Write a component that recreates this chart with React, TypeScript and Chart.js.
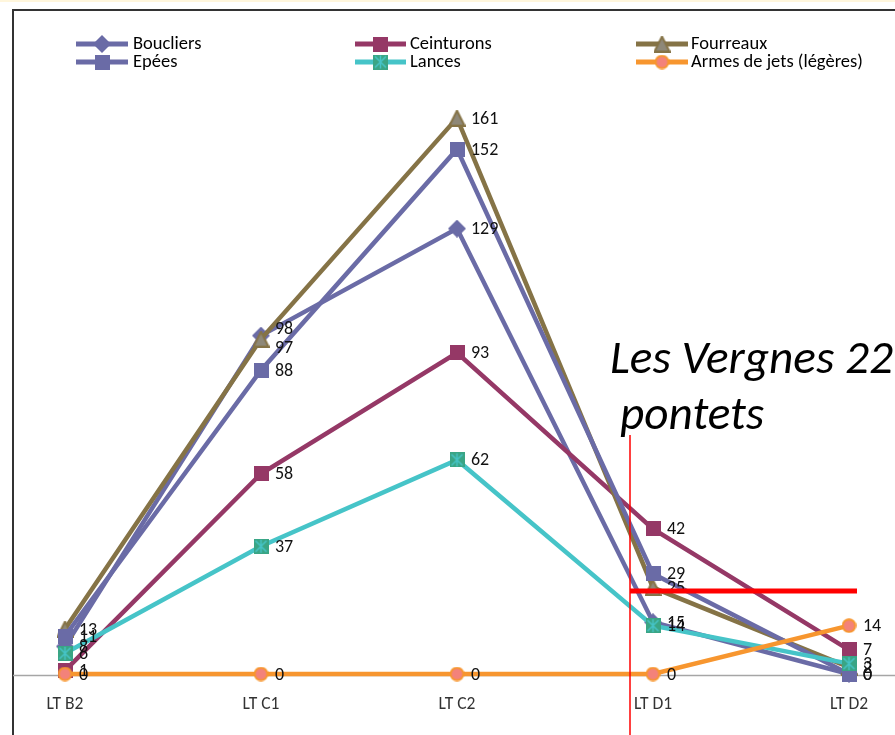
import React, { useEffect, useRef } from "react";
import { Chart, registerables } from "chart.js";

Chart.register(...registerables);

const categories = ["LT B2", "LT C1", "LT C2", "LT D1", "LT D2"];
const boucliers = [8, 98, 129, 15, 0];
const ceinturons = [1, 58, 93, 42, 7];
const fourreaux = [13, 97, 161, 25, 2];
const epees = [11, 88, 152, 29, 0];
const lances = [6, 37, 62, 14, 3];
const armes = [0, 0, 0, 0, 14];
const seriesNames = ["Boucliers", "Ceinturons", "Fourreaux", "Epées", "Lances", "Armes de jets (légères)"];
const annotationLines = ["Les Vergnes 22", "pontets"];

const FONT = '"Carlito", "Liberation Sans Narrow", "Noto Sans", sans-serif';

function fit(ctx: CanvasRenderingContext2D, text: string, target: number, style: string) {
  ctx.font = style + "20px " + FONT;
  const w = ctx.measureText(text).width;
  const size = (20 * target) / w;
  return style + size.toFixed(2) + "px " + FONT;
}

function mk(size: number, draw: (c: CanvasRenderingContext2D, s: number) => void) {
  const cv = document.createElement("canvas");
  cv.width = size;
  cv.height = size;
  const c = cv.getContext("2d")!;
  draw(c, size);
  return cv;
}

const diamond = mk(18, (c, s) => {
  c.fillStyle = "#6A6BA6";
  c.beginPath();
  c.moveTo(s / 2, 0);
  c.lineTo(s, s / 2);
  c.lineTo(s / 2, s);
  c.lineTo(0, s / 2);
  c.closePath();
  c.fill();
});
const sqBlue = mk(15, (c, s) => {
  c.fillStyle = "#6A6BA6";
  c.fillRect(0, 0, s, s);
});
const sqRed = mk(15, (c, s) => {
  c.fillStyle = "#953866";
  c.fillRect(0, 0, s, s);
});
const tri = mk(17, (c, s) => {
  c.fillStyle = "#8E8878";
  c.strokeStyle = "#857346";
  c.lineWidth = 2;
  c.beginPath();
  c.moveTo(s / 2, 1);
  c.lineTo(s - 1, s - 1);
  c.lineTo(1, s - 1);
  c.closePath();
  c.fill();
  c.stroke();
});
const sqGreen = mk(15, (c, s) => {
  c.fillStyle = "#3AA585";
  c.fillRect(0, 0, s, s);
  c.strokeStyle = "#46C4C8";
  c.lineWidth = 1.5;
  c.beginPath();
  c.moveTo(2, 2);
  c.lineTo(s - 2, s - 2);
  c.moveTo(s - 2, 2);
  c.lineTo(2, s - 2);
  c.moveTo(s / 2, 1);
  c.lineTo(s / 2, s - 1);
  c.stroke();
});
const circ = mk(15, (c, s) => {
  c.fillStyle = "#F3827A";
  c.strokeStyle = "#F7962F";
  c.lineWidth = 2;
  c.beginPath();
  c.arc(s / 2, s / 2, s / 2 - 1.2, 0, Math.PI * 2);
  c.fill();
  c.stroke();
});

const lineColors = ["#6A6BA6", "#953866", "#857346", "#6A6BA6", "#46C4C8", "#F7962F"];
const markers = [diamond, sqRed, tri, sqBlue, sqGreen, circ];
const values = [boucliers, ceinturons, fourreaux, epees, lances, armes];
// small vertical nudges (px) for overlapping data labels: [series, category, dy]
const labelNudges: [number, number, number][] = [
  [0, 1, -7],
  [2, 1, 8],
];

const overlay = {
  id: "overlay",
  beforeDraw(chart: any) {
    const ctx = chart.ctx as CanvasRenderingContext2D;
    ctx.save();
    ctx.fillStyle = "#ffffff";
    ctx.fillRect(0, 0, chart.width, chart.height);
    ctx.fillStyle = "#FFF6DC";
    ctx.fillRect(0, 0, chart.width, 2);
    ctx.strokeStyle = "#333333";
    ctx.lineWidth = 2;
    ctx.beginPath();
    ctx.moveTo(13, 760);
    ctx.lineTo(13, 10);
    ctx.lineTo(920, 10);
    ctx.stroke();
    const y0 = chart.scales.y.getPixelForValue(0);
    ctx.strokeStyle = "#A6A6A6";
    ctx.lineWidth = 1.5;
    ctx.beginPath();
    ctx.moveTo(13, y0 + 1.5);
    ctx.lineTo(chart.width, y0 + 1.5);
    ctx.stroke();
    ctx.fillStyle = "#333333";
    ctx.font = fit(ctx, "LT B2", 37, "");
    ctx.textAlign = "center";
    ctx.textBaseline = "middle";
    categories.forEach((c, i) => {
      ctx.fillText(c, chart.scales.x.getPixelForValue(i), 705);
    });
    ctx.restore();
  },
  afterDatasetsDraw(chart: any) {
    const ctx = chart.ctx as CanvasRenderingContext2D;
    ctx.save();
    // data labels
    ctx.fillStyle = "#111111";
    ctx.font = "18px " + FONT;
    ctx.textAlign = "left";
    ctx.textBaseline = "middle";
    chart.data.datasets.forEach((ds: any, di: number) => {
      const meta = chart.getDatasetMeta(di);
      meta.data.forEach((pt: any, i: number) => {
        let dy = 0;
        labelNudges.forEach((n) => {
          if (n[0] === di && n[1] === i) dy = n[2];
        });
        ctx.fillText(String(ds.data[i]), pt.x + 14, pt.y + 1 + dy);
      });
    });
    // red lines
    ctx.strokeStyle = "#FF0000";
    ctx.lineWidth = 1.5;
    ctx.beginPath();
    ctx.moveTo(630, 435);
    ctx.lineTo(630, 735);
    ctx.stroke();
    ctx.lineWidth = 5;
    ctx.beginPath();
    ctx.moveTo(630, 591);
    ctx.lineTo(857, 591);
    ctx.stroke();
    // annotation
    ctx.fillStyle = "#000000";
    ctx.font = fit(ctx, annotationLines[0], 283, "italic ");
    ctx.textBaseline = "alphabetic";
    ctx.fillText(annotationLines[0], 610, 373);
    ctx.fillText(annotationLines[1], 620, 429);
    // legend
    const cols = [
      [76, 128, 133],
      [355, 406, 410],
      [636, 688, 691],
    ];
    const rows = [44, 62];
    ctx.font = fit(ctx, seriesNames[5], 172, "");
    ctx.textBaseline = "middle";
    for (let i = 0; i < 6; i++) {
      const col = cols[i % 3];
      const y = rows[Math.floor(i / 3)];
      ctx.strokeStyle = lineColors[i];
      ctx.lineWidth = 5;
      ctx.beginPath();
      ctx.moveTo(col[0], y);
      ctx.lineTo(col[1], y);
      ctx.stroke();
      const m = markers[i];
      ctx.drawImage(m, (col[0] + col[1]) / 2 - m.width / 2, y - m.height / 2);
      ctx.fillStyle = "#000000";
      ctx.fillText(seriesNames[i], col[2], y);
    }
    ctx.restore();
  },
};

export default function App() {
  const ref = useRef<HTMLCanvasElement>(null);
  useEffect(() => {
    const chart = new Chart(ref.current!, {
      type: "line",
      data: {
        labels: categories,
        datasets: values.map((v, i) => ({
          label: seriesNames[i],
          data: v,
          borderColor: lineColors[i],
          backgroundColor: lineColors[i],
          borderWidth: 4.5,
          pointStyle: markers[i] as any,
          pointRadius: 7,
          tension: 0,
          clip: false as any,
          order: 10 - i,
        })),
      },
      options: {
        responsive: false,
        animation: false,
        layout: { padding: { left: 65, right: 46, top: 87, bottom: 61 } },
        scales: {
          x: { display: false, offset: false },
          y: { display: false, min: 0, max: 170 },
        },
        plugins: { legend: { display: false }, tooltip: { enabled: false } },
        events: [],
      },
      plugins: [overlay],
    });
    return () => chart.destroy();
  }, []);
  return (
    <div style={{ position: "absolute", left: 0, top: 0, width: 895, height: 735 }}>
      <canvas ref={ref} width={895} height={735} style={{ display: "block" }} />
    </div>
  );
}
